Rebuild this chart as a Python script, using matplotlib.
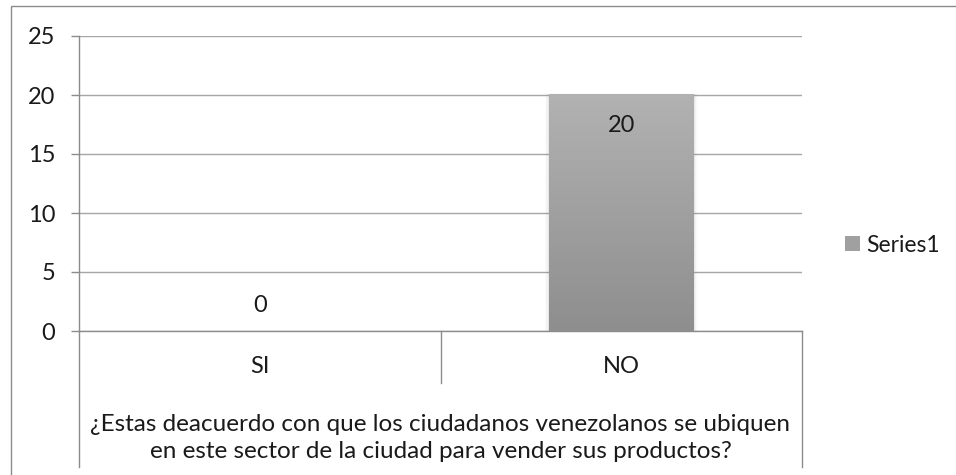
import numpy as np
import matplotlib
matplotlib.use("Agg")
import matplotlib.pyplot as plt
from matplotlib.patches import Rectangle
import matplotlib.transforms as mtransforms

categories = ["SI", "NO"]
values = [0, 20]
group_label = ("¿Estas deacuerdo con que los ciudadanos venezolanos se ubiquen\n"
               "en este sector de la ciudad para vender sus productos?")
series_name = "Series1"
yticks = [0, 5, 10, 15, 20, 25]

plt.rcParams['font.family'] = ['Lato', 'DejaVu Sans']
W, H = 956, 475
TXT = '#1a1a1a'
fig = plt.figure(figsize=(W / 100, H / 100), dpi=100)

# outer chart border (right/bottom fall off the image)
fig.patches.append(Rectangle((11 / W, 1 - 6 / H), 2, -2, transform=fig.transFigure,
                             fill=False, edgecolor='#8c8c8c', linewidth=1.0))

ax = fig.add_axes([79 / W, 1 - 331 / H, 723 / W, 295 / H])
x = np.arange(len(categories))
bars = ax.bar(x, values, width=0.4, color='none', edgecolor='none', zorder=3)

# vertical gradient inside each bar
grad = np.linspace(0, 1, 256).reshape(-1, 1)
cmap = matplotlib.colors.LinearSegmentedColormap.from_list('g', ['#8e8e8e', '#b2b2b2'])
for b, v in zip(bars, values):
    x0, w, h = b.get_x(), b.get_width(), b.get_height()
    if h > 0:
        # soft shadow at the sides
        for k, a in enumerate([0.10, 0.06, 0.03]):
            d = 0.004 * (k + 1)
            ax.add_patch(Rectangle((x0 - d, 0), w + 2 * d, h + 0.05 * (k + 1),
                                   facecolor='#808080', alpha=a, edgecolor='none', zorder=2))
        ax.imshow(grad, extent=[x0, x0 + w, 0, h], origin='lower', cmap=cmap,
                  aspect='auto', zorder=3)
        ax.text(x0 + w / 2, h - 2.6, str(v), ha='center', va='center',
                fontsize=17, color=TXT, zorder=4)
    else:
        ax.text(x0 + w / 2, v + 2.2, str(v), ha='center', va='center',
                fontsize=17, color=TXT, zorder=4)

ax.set_xlim(-0.5, len(categories) - 0.5)
ax.set_ylim(0, 25)
ax.set_yticks(yticks)
ax.set_yticklabels([str(t) for t in yticks], fontsize=17, color=TXT)
ax.tick_params(axis='y', length=6, width=1, color='#8c8c8c', pad=11)
ax.tick_params(axis='x', length=0)
ax.set_xticks([])
ax.grid(axis='y', color='#a6a6a6', linewidth=1.0, zorder=0)
ax.set_axisbelow(True)
for s in ['top', 'right']:
    ax.spines[s].set_visible(False)
for s in ['left', 'bottom']:
    ax.spines[s].set_color('#8c8c8c')
    ax.spines[s].set_linewidth(1.0)

# multi-level category axis
tr = mtransforms.blended_transform_factory(ax.transData, ax.transAxes)
for i, c in enumerate(categories):
    ax.text(i, -0.122, c, transform=tr, ha='center', va='center', fontsize=17, color=TXT)
for xb in np.arange(len(categories) - 1) + 0.5:
    ax.plot([xb, xb], [0, -0.176], transform=tr, color='#8c8c8c', lw=1.0, clip_on=False)
for xb in [-0.5, len(categories) - 0.5]:
    ax.plot([xb, xb], [0, -0.461], transform=tr, color='#8c8c8c', lw=1.0, clip_on=False)
ax.text(0.5, -0.362, group_label, transform=ax.transAxes, ha='center', va='center',
        fontsize=17.5, color=TXT, linespacing=1.32)

# legend
handle = Rectangle((0, 0), 1, 1, facecolor='#a0a0a0', edgecolor='none')
fig.legend([handle], [series_name], loc='center left', bbox_to_anchor=(824 / W, 1 - 245 / H),
           frameon=False, fontsize=16.5, handlelength=0.65, handleheight=0.65,
           handletextpad=0.3, labelcolor=TXT)

fig.savefig('out.png', dpi=100)
